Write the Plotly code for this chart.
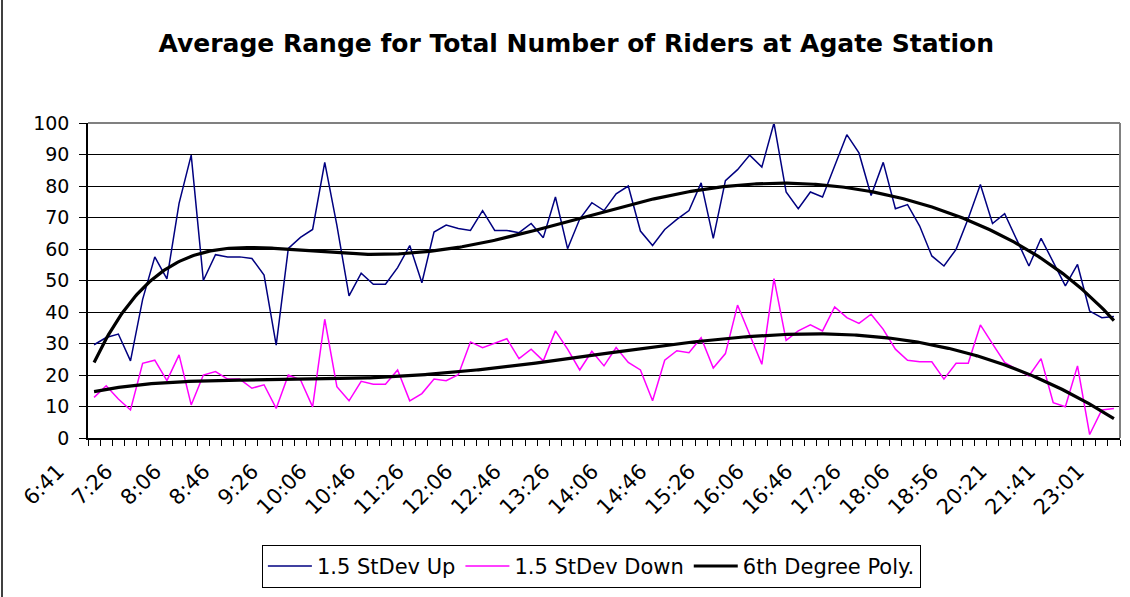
import numpy as np
import plotly.graph_objects as go

title_text = "Average Range for Total Number of Riders at Agate Station"

tick_labels = ["6:41", "7:26", "8:06", "8:46", "9:26", "10:06", "10:46", "11:26",
               "12:06", "12:46", "13:26", "14:06", "14:46", "15:26", "16:06", "16:46",
               "17:26", "18:06", "18:56", "20:21", "21:41", "23:01"]

stdev_up = [29.6, 31.9, 33.0, 24.5, 44.0, 57.5, 50.5, 74.5, 89.8, 50.0,
            58.2, 57.5, 57.5, 57.0, 51.7, 29.5, 60.2, 63.7, 66.2, 87.5,
            67.5, 45.1, 52.3, 48.8, 48.8, 54.1, 61.1, 49.3, 65.4, 67.6,
            66.5, 65.9, 72.2, 65.9, 65.9, 65.2, 68.1, 63.6, 76.5, 60.1,
            69.5, 74.7, 72.2, 77.5, 80.0, 65.7, 61.1, 66.2, 69.4, 72.2,
            81.0, 63.4, 81.7, 85.2, 89.8, 86.0, 100.0, 78.1, 72.8, 78.1,
            76.5, 86.3, 96.3, 90.5, 77.0, 87.5, 72.8, 74.1, 67.3, 57.8,
            54.6, 59.9, 69.7, 80.5, 68.1, 71.2, 62.9, 54.6, 63.4, 56.0,
            48.3, 55.1, 40.3, 38.2, 38.6]

stdev_down = [12.9, 16.6, 12.4, 8.9, 23.7, 24.7, 18.2, 26.4, 10.5, 20.0,
              21.1, 18.7, 18.7, 15.8, 16.9, 9.4, 20.0, 18.5, 9.9, 37.7,
              16.3, 11.8, 18.0, 17.1, 17.1, 21.6, 11.8, 14.1, 18.7, 18.2,
              20.1, 30.5, 28.7, 30.0, 31.5, 25.2, 28.2, 24.5, 34.0, 28.2,
              21.6, 27.5, 22.9, 28.7, 24.0, 21.6, 11.8, 24.7, 27.7, 27.1,
              31.8, 22.2, 26.8, 42.2, 32.9, 23.4, 50.6, 31.0, 34.0, 35.9,
              34.0, 41.6, 38.2, 36.4, 39.3, 34.5, 28.2, 24.7, 24.2, 24.2,
              18.7, 23.7, 23.7, 35.9, 29.9, 24.0, 21.8, 19.7, 25.2, 11.2,
              9.9, 22.9, 1.1, 8.9, 9.4]

n = len(stdev_up)
x_idx = np.arange(n)
tick_positions = x_idx[::4]

# 6th degree polynomial trendlines (as Excel computes them, x = 1..n)
xf = np.arange(1, n + 1)
fine = np.linspace(1, n, 500)
trend_up = np.polyval(np.polyfit(xf, stdev_up, 6), fine)
trend_down = np.polyval(np.polyfit(xf, stdev_down, 6), fine)

FONT = "'DejaVu Sans', Arial, sans-serif"

fig = go.Figure()
fig.add_trace(go.Scatter(x=x_idx, y=stdev_up, mode="lines", name="1.5 StDev Up",
                         line=dict(color="#000080", width=1.5)))
fig.add_trace(go.Scatter(x=x_idx, y=stdev_down, mode="lines", name="1.5 StDev Down",
                         line=dict(color="#FF00FF", width=1.5)))
fig.add_trace(go.Scatter(x=fine - 1, y=trend_up, mode="lines", name="6th Degree Poly.",
                         line=dict(color="black", width=3.2)))
fig.add_trace(go.Scatter(x=fine - 1, y=trend_down, mode="lines", name="6th Degree Poly.",
                         showlegend=False, line=dict(color="black", width=3.2)))

fig.update_layout(
    width=1130, height=597,
    margin=dict(l=88, r=10, t=123, b=158),
    paper_bgcolor="white", plot_bgcolor="white",
    font=dict(family=FONT, size=19, color="black"),
    title=dict(text="<b>" + title_text + "</b>", x=0.51, xanchor="center",
               y=0.928, yanchor="middle", font=dict(size=25, family=FONT, color="black")),
    showlegend=True,
    legend=dict(orientation="h", x=0.1685, xanchor="left", y=-0.335, yanchor="top",
                bordercolor="black", borderwidth=1, bgcolor="white",
                font=dict(size=21, family=FONT), traceorder="normal",
                itemwidth=44, tracegroupgap=0),
)

fig.update_xaxes(
    range=[-0.5, n - 0.5], tickmode="array", tickvals=tick_positions, ticktext=tick_labels,
    tickangle=-45, ticks="", showgrid=False, zeroline=False,
    showline=True, linecolor="black", linewidth=1.5,
    tickfont=dict(size=21, family=FONT),
    ticklabelstandoff=11, ticklabelshift=-36,
    minor=dict(tickmode="linear", tick0=-0.5, dtick=1, ticks="outside", ticklen=6,
               tickcolor="black", tickwidth=1.2, showgrid=False),
)
fig.update_yaxes(
    range=[0, 100], tickmode="linear", tick0=0, dtick=10,
    ticks="outside", ticklen=7, tickcolor="black", tickwidth=1.2,
    ticklabelstandoff=6,
    showgrid=True, gridcolor="black", gridwidth=1.2, zeroline=False,
    showline=True, linecolor="black", linewidth=1.5,
    tickfont=dict(size=19, family=FONT),
)

# plot area border (top and right, grey)
fig.add_shape(type="line", xref="paper", yref="paper", x0=0, x1=1, y0=1, y1=1,
              line=dict(color="#808080", width=2), layer="above")
fig.add_shape(type="line", xref="paper", yref="paper", x0=1, x1=1, y0=0, y1=1,
              line=dict(color="#808080", width=2), layer="above")
# chart area left border
fig.add_shape(type="line", xref="paper", yref="paper",
              x0=-86 / 1032, x1=-86 / 1032, y0=-0.6, y1=1.5,
              line=dict(color="black", width=1.5), layer="above")

fig.write_html("out.html", config={"displayModeBar": False},
               post_script="document.body.style.margin='0px';")
